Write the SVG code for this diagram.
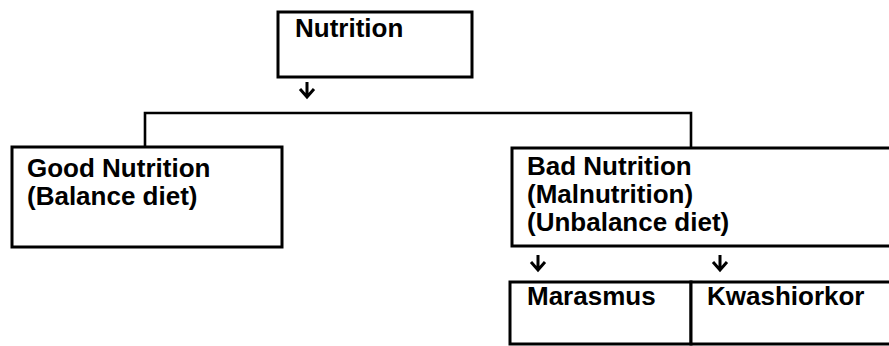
<svg xmlns="http://www.w3.org/2000/svg" width="889" height="346" viewBox="0 0 889 346">
<style>
.box{fill:#fff;stroke:#000;stroke-width:3}
.t{font-family:"Liberation Sans",Arial,sans-serif;font-weight:bold;font-size:26px;fill:#000}
.c{fill:none;stroke:#000;stroke-width:2.6}
.a{fill:none;stroke:#000;stroke-width:3;stroke-linejoin:miter}
</style>
<rect width="889" height="346" fill="#fff"/>
<g id="connectors">
<path class="c" d="M145,147 V113 H691 V148"/>
<path class="a" d="M307,82 V97 M300,89 L307,97 L314,89"/>
<path class="a" d="M538,255 V270 M531,262 L538,270 L545,262"/>
<path class="a" d="M720,255 V270 M713,262 L720,270 L727,262"/>
</g>
<g id="nutrition">
<rect class="box" x="278" y="12" width="194" height="65"/>
<text class="t" x="295" y="37">Nutrition</text>
</g>
<g id="good-nutrition">
<rect class="box" x="12" y="147" width="270" height="100"/>
<text class="t" x="27" y="177">Good Nutrition</text>
<text class="t" x="27" y="205">(Balance diet)</text>
</g>
<g id="bad-nutrition">
<rect class="box" x="512" y="148" width="383" height="98"/>
<text class="t" x="527" y="175">Bad Nutrition</text>
<text class="t" x="527" y="203">(Malnutrition)</text>
<text class="t" x="527" y="231">(Unbalance diet)</text>
</g>
<g id="marasmus">
<rect class="box" x="510" y="282" width="181" height="62"/>
<text class="t" x="527" y="305">Marasmus</text>
</g>
<g id="kwashiorkor">
<rect class="box" x="691" y="282" width="204" height="62"/>
<text class="t" x="707" y="305">Kwashiorkor</text>
</g>
</svg>
